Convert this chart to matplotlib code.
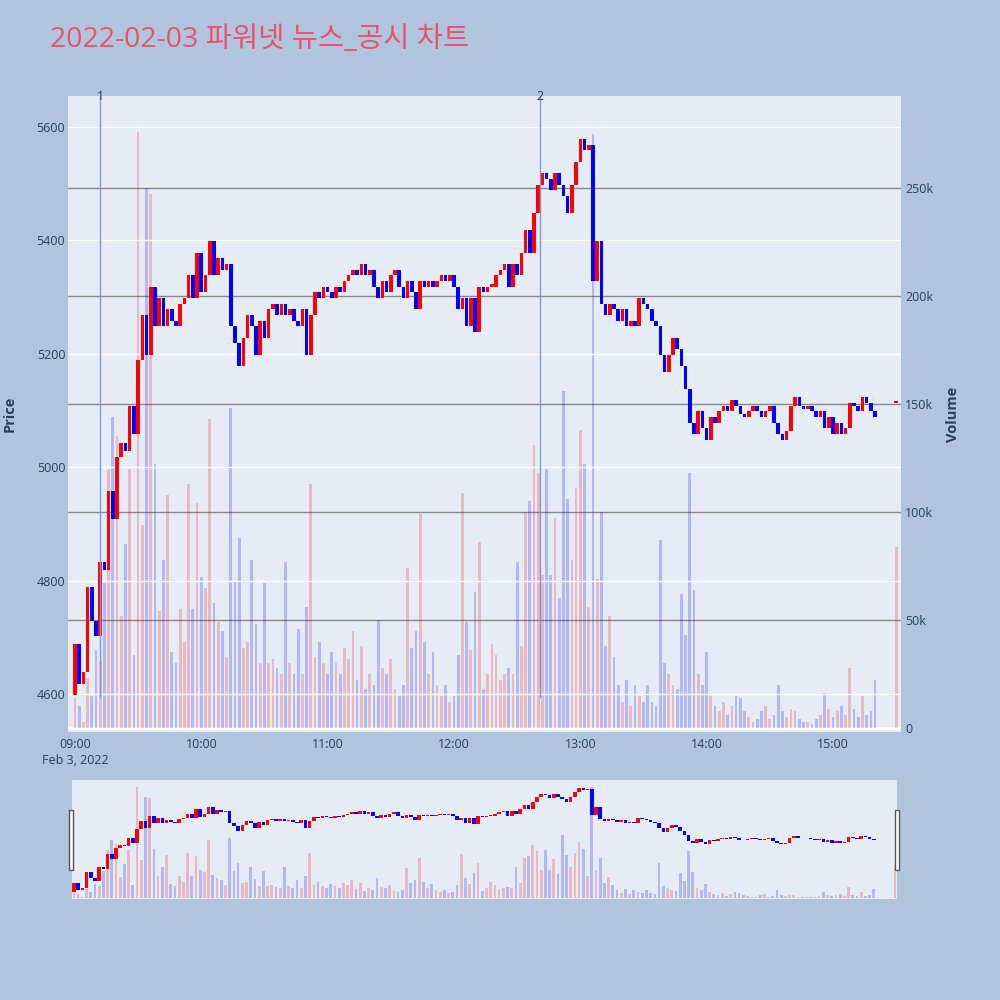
import numpy as np
import matplotlib.pyplot as plt
from matplotlib.ticker import FuncFormatter
from matplotlib.patches import Rectangle
import matplotlib.transforms as mtransforms

plt.rcParams['font.family'] = ['Open Sans', 'Noto Sans CJK KR', 'DejaVu Sans']

title = "2022-02-03 파워넷 뉴스_공시 차트"

# minutes after 09:00, one candle every 2 minutes
minutes = list(range(0, 381, 2))
first_open = 4600
close = [4690, 4620, 4640, 4790, 4730, 4705, 4835, 4820, 4960, 4910, 5020,
         5045, 5030, 5110, 5060, 5190, 5270, 5200, 5320, 5250, 5300,
         5250, 5280, 5260, 5250, 5290, 5300, 5340, 5300, 5380, 5310,
         5340, 5400, 5340, 5370, 5350, 5360, 5250, 5220, 5180, 5230,
         5270, 5250, 5200, 5260, 5230, 5280, 5290, 5270, 5290, 5270,
         5280, 5260, 5250, 5280, 5200, 5270, 5310, 5300, 5320, 5310,
         5300, 5320, 5310, 5330, 5340, 5350, 5340, 5360, 5340, 5350,
         5320, 5300, 5330, 5310, 5340, 5350, 5320, 5300, 5330, 5310,
         5280, 5330, 5320, 5330, 5320, 5330, 5340, 5330, 5340, 5320,
         5280, 5300, 5250, 5300, 5240, 5320, 5310, 5320, 5320, 5340,
         5350, 5360, 5320, 5360, 5340, 5380, 5420, 5380, 5450, 5500,
         5520, 5510, 5490, 5520, 5500, 5480, 5450, 5500, 5540, 5580,
         5560, 5570, 5330, 5400, 5290, 5270, 5290, 5280, 5260, 5280,
         5250, 5260, 5250, 5300, 5290, 5280, 5260, 5250, 5200, 5170,
         5200, 5230, 5210, 5180, 5140, 5080, 5060, 5100, 5070, 5050,
         5090, 5080, 5100, 5110, 5100, 5120, 5110, 5095, 5090, 5100,
         5110, 5100, 5090, 5100, 5110, 5080, 5060, 5050, 5065, 5110,
         5125, 5110, 5105, 5110, 5100, 5090, 5100, 5070, 5090, 5060,
         5080, 5060, 5070, 5115, 5110, 5100, 5125, 5115, 5100, 5090]
volume_k = [14, 10, 3, 23, 15, 36, 31, 67, 120, 144, 135,
            52, 85, 120, 34, 276, 94, 250, 247, 122, 54,
            78, 108, 35, 30, 55, 40, 113, 55, 104, 70,
            65, 143, 58, 49, 45, 33, 148, 68, 88, 37,
            40, 78, 48, 30, 67, 30, 32, 28, 25, 77,
            30, 25, 46, 25, 56, 113, 33, 40, 30, 25,
            35, 30, 25, 37, 32, 45, 22, 38, 18, 25,
            20, 50, 28, 25, 32, 18, 15, 20, 74, 37,
            45, 99, 40, 25, 35, 20, 15, 20, 12, 15,
            34, 109, 49, 36, 63, 86, 18, 25, 39, 34,
            22, 25, 28, 25, 77, 38, 100, 105, 131, 118,
            71, 120, 71, 97, 60, 156, 106, 78, 111, 138,
            122, 56, 275, 69, 100, 38, 52, 33, 20, 12,
            22, 10, 20, 15, 12, 20, 12, 10, 87, 30,
            25, 20, 18, 62, 43, 118, 64, 25, 20, 35,
            15, 10, 8, 12, 6, 10, 15, 14, 8, 5,
            3, 4, 8, 10, 4, 6, 20, 8, 5, 9,
            8, 4, 3, 3, 2, 4, 6, 16, 9, 5,
            8, 10, 6, 28, 9, 5, 15, 6, 8, 22]

# closing auction at 15:30
auction_minute = 390
auction_price = 5115
auction_volume_k = 84

event_minutes = [12, 221]
event_labels = ['1', '2']

hour_ticks = [0, 60, 120, 180, 240, 300, 360]
hour_labels = ['09:00\nFeb 3, 2022', '10:00', '11:00', '12:00', '13:00', '14:00', '15:00']

t = np.array(minutes + [auction_minute], dtype=float)
c = np.array(close + [auction_price], dtype=float)
o = np.array([first_open] + close, dtype=float)
o[-1] = auction_price
v = np.array(volume_k + [auction_volume_k], dtype=float) * 1000

PRICE_LIM = (4533, 5654)
VOL_LIM = (-1850, 292600)
TXT = '#2a3f5f'
PLOT_BG = '#E5ECF6'


def draw(ax_v, ax_p):
    up = c >= o
    body_col = np.where(up, '#FF0000', '#0000FF')
    vol_col = [(1, 0, 0, 0.22) if u else (0, 0, 1, 0.22) for u in up]
    ax_v.bar(t, v, width=1.3, color=vol_col, linewidth=0)
    bottom = np.minimum(o, c) - 2
    height = np.maximum(np.abs(c - o), 4)
    ax_p.bar(t, height, bottom=bottom, width=1.7, color=body_col, linewidth=0)
    ax_v.set_ylim(*VOL_LIM)
    ax_p.set_ylim(*PRICE_LIM)


fig = plt.figure(figsize=(10, 10), dpi=100)
fig.patch.set_facecolor('#B0C4DE')

# main chart
ax_v = fig.add_axes([0.068, 0.268, 0.833, 0.636])
ax_v.set_facecolor(PLOT_BG)
ax_p = ax_v.twinx()
ax_p.patch.set_visible(False)
draw(ax_v, ax_p)
ax_v.set_xlim(-3.3, 392.3)

ax_v.yaxis.tick_right()
ax_p.yaxis.tick_left()
ax_v.set_yticks([0, 50000, 100000, 150000, 200000, 250000])
ax_v.yaxis.set_major_formatter(FuncFormatter(lambda x, p: '0' if x == 0 else f'{x/1000:.0f}k'))
ax_p.set_yticks([4600, 4800, 5000, 5200, 5400, 5600])
ax_v.set_axisbelow(True)
ax_p.set_axisbelow(True)
ax_v.grid(axis='y', color='#8a8a8a', lw=1)
ax_p.grid(axis='y', color='white', lw=1)
ax_v.axhline(0, color='white', lw=2, zorder=0.6)
ax_v.set_xticks(hour_ticks)
ax_v.set_xticklabels(hour_labels, linespacing=1.35)
for a in (ax_v, ax_p):
    for s in a.spines.values():
        s.set_visible(False)
    a.tick_params(length=0, labelsize=9, labelcolor=TXT)
ax_v.tick_params(axis='x', pad=4)
ax_v.tick_params(axis='y', pad=3)
ax_p.tick_params(axis='y', pad=2)

trans = mtransforms.blended_transform_factory(ax_p.transData, ax_p.transAxes)
for m, lab in zip(event_minutes, event_labels):
    ax_p.axvline(m, ymin=0.055, ymax=1, color='#7F98E6', lw=1, zorder=3)
    ax_p.text(m, 1.0, lab, transform=trans, ha='center', va='center', color=TXT, fontsize=9)

fig.text(0.010, 0.586, 'Price', rotation=90, ha='center', va='center',
         fontsize=10.5, fontweight='bold', color=TXT)
fig.text(0.953, 0.586, 'Volume', rotation=90, ha='center', va='center',
         fontsize=10.5, fontweight='bold', color=TXT)
fig.text(0.05, 0.960, title, fontsize=20.5, color='#E9536A', ha='left', va='center')

# range slider
ax_sv = fig.add_axes([0.072, 0.101, 0.825, 0.119])
ax_sv.set_facecolor(PLOT_BG)
ax_sp = ax_sv.twinx()
ax_sp.patch.set_visible(False)
draw(ax_sv, ax_sp)
ax_sv.set_xlim(-0.9, 391)
for a in (ax_sv, ax_sp):
    a.set_xticks([])
    a.set_yticks([])
    for s in a.spines.values():
        s.set_visible(False)

for hx in (0.069, 0.895):
    fig.patches.append(Rectangle((hx, 0.130), 0.004, 0.060, transform=fig.transFigure,
                                 facecolor='white', edgecolor='#555555', lw=1))

fig.savefig('out.png', dpi=100, facecolor=fig.get_facecolor())
